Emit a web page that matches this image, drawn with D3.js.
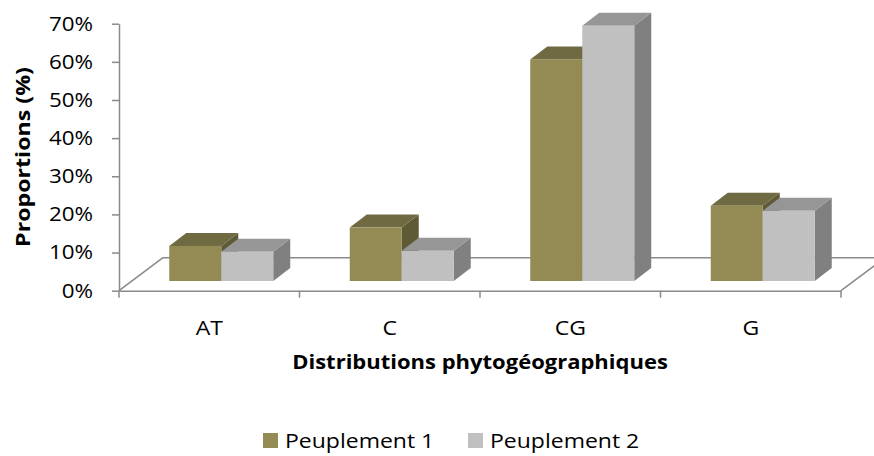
<!DOCTYPE html>
<html>
<head>
<meta charset="utf-8">
<script src="https://cdn.jsdelivr.net/npm/d3@7"></script>
<style>
  body { margin: 0; background: #fff; }
  text { font-family: "Open Sans", "Noto Sans", sans-serif; fill: #000; }
</style>
</head>
<body>
<svg id="chart" width="874" height="456"></svg>
<script>
var categories = ["AT", "C", "CG", "G"];
var seriesNames = ["Peuplement 1", "Peuplement 2"];
var peuplement1 = [0.092, 0.140, 0.581, 0.197];
var peuplement2 = [0.077, 0.079, 0.669, 0.184];
var yTicks = [0, 0.1, 0.2, 0.3, 0.4, 0.5, 0.6, 0.7];

// front, top, side colours per series
var colors = [
  { front: "#948A54", top: "#6F6A41", side: "#5F5A36" },
  { front: "#C0C0C0", top: "#969696", side: "#808080" }
];

var svg = d3.select("#chart");
var axisColor = "#8a8a8a";

var x = d3.scaleBand().domain(categories).range([119, 841]);
var y = d3.scaleLinear().domain([0, 0.7]).range([290.7, 23.7]);

// oblique depth of the floor, and where the bars sit in it
var floorDx = 44, floorDy = -33;
var frontDx = 12, frontDy = -9.7;
var barDx = 17, barDy = -13;
var barW = 52;

// the original text is a little wider than Open Sans
function stretch(sel, sx) {
  sel.each(function() {
    var t = d3.select(this);
    var tx = +t.attr("x") || 0;
    t.attr("x", 0).attr("transform", "translate(" + tx + ",0) scale(" + sx + ",1)");
  });
}

var data = categories.map(function(c, i) {
  return { cat: c, values: [peuplement1[i], peuplement2[i]] };
});

// floor: back edge and side edges
var x0 = x.range()[0], x1 = x.range()[1], yb = y(0);
var floor = svg.append("g")
  .attr("fill", "none")
  .attr("stroke", axisColor)
  .attr("stroke-width", 1.5);
floor.append("line")
  .attr("x1", x0 + floorDx).attr("y1", yb + floorDy)
  .attr("x2", x1 + floorDx).attr("y2", yb + floorDy);
floor.append("line")
  .attr("x1", x0).attr("y1", yb)
  .attr("x2", x0 + floorDx).attr("y2", yb + floorDy);
floor.append("line")
  .attr("x1", x1).attr("y1", yb)
  .attr("x2", x1 + floorDx).attr("y2", yb + floorDy);

// bars
var groups = svg.selectAll(".cat")
  .data(data)
  .enter().append("g")
  .attr("class", "cat");

groups.each(function(d) {
  var g = d3.select(this);
  var cx = x(d.cat) + x.bandwidth() / 2 + frontDx;
  d.values.forEach(function(v, i) {
    var left = cx - barW + i * barW;
    var right = left + barW;
    var top = y(v) + frontDy;
    var bottom = y(0) + frontDy;
    var c = colors[i];

    g.append("path")
      .attr("d", "M" + right + "," + top +
        "L" + (right + barDx) + "," + (top + barDy) +
        "L" + (right + barDx) + "," + (bottom + barDy) +
        "L" + right + "," + bottom + "Z")
      .attr("fill", c.side);

    g.append("path")
      .attr("d", "M" + left + "," + top +
        "L" + (left + barDx) + "," + (top + barDy) +
        "L" + (right + barDx) + "," + (top + barDy) +
        "L" + right + "," + top + "Z")
      .attr("fill", c.top);

    g.append("rect")
      .attr("x", left)
      .attr("y", top)
      .attr("width", barW)
      .attr("height", bottom - top)
      .attr("fill", c.front);
  });
});

// y axis
var yAxis = svg.append("g")
  .attr("transform", "translate(" + x0 + ",0)")
  .call(d3.axisLeft(y)
    .tickValues(yTicks)
    .tickFormat(d3.format(".0%"))
    .tickSize(7)
    .tickSizeOuter(0)
    .tickPadding(19));
yAxis.selectAll("path, line").attr("stroke", axisColor).attr("stroke-width", 1.5);
yAxis.selectAll("text")
  .style("font-size", "20px")
  .attr("fill", "#000")
  .call(stretch, 1.12);

// x axis: front edge, ticks on band boundaries, labels centred
var xAxis = svg.append("g")
  .attr("transform", "translate(0," + yb + ")")
  .call(d3.axisBottom(x).tickSize(0).tickSizeOuter(0).tickPadding(30));
xAxis.select(".domain").attr("stroke", axisColor).attr("stroke-width", 1.5);
xAxis.selectAll("text")
  .style("font-size", "20px")
  .attr("fill", "#000")
  .call(stretch, 1.15);

var bounds = categories.map(function(c) { return x(c); }).concat([x1]);
xAxis.selectAll(".bound")
  .data(bounds)
  .enter().append("line")
  .attr("class", "bound")
  .attr("x1", function(d) { return d; })
  .attr("x2", function(d) { return d; })
  .attr("y1", 0)
  .attr("y2", 7)
  .attr("stroke", axisColor)
  .attr("stroke-width", 1.5);

// axis titles
svg.append("text")
  .attr("transform", "translate(30,157) rotate(-90) scale(1.16,1)")
  .attr("text-anchor", "middle")
  .style("font-size", "20px")
  .style("font-weight", "bold")
  .text("Proportions (%)");

svg.append("text")
  .attr("x", 480)
  .attr("y", 369)
  .attr("text-anchor", "middle")
  .style("font-size", "20px")
  .style("font-weight", "bold")
  .text("Distributions phytogéographiques")
  .call(stretch, 1.1);

// legend
var legendX = [263, 468];
var legend = svg.selectAll(".legend")
  .data(seriesNames)
  .enter().append("g")
  .attr("class", "legend")
  .attr("transform", function(d, i) { return "translate(" + legendX[i] + ",433)"; });
legend.append("rect")
  .attr("width", 15)
  .attr("height", 15)
  .attr("fill", function(d, i) { return colors[i].front; });
legend.append("text")
  .attr("x", 22)
  .attr("y", 14.5)
  .style("font-size", "20px")
  .text(function(d) { return d; })
  .call(stretch, 1.15);
</script>
</body>
</html>
